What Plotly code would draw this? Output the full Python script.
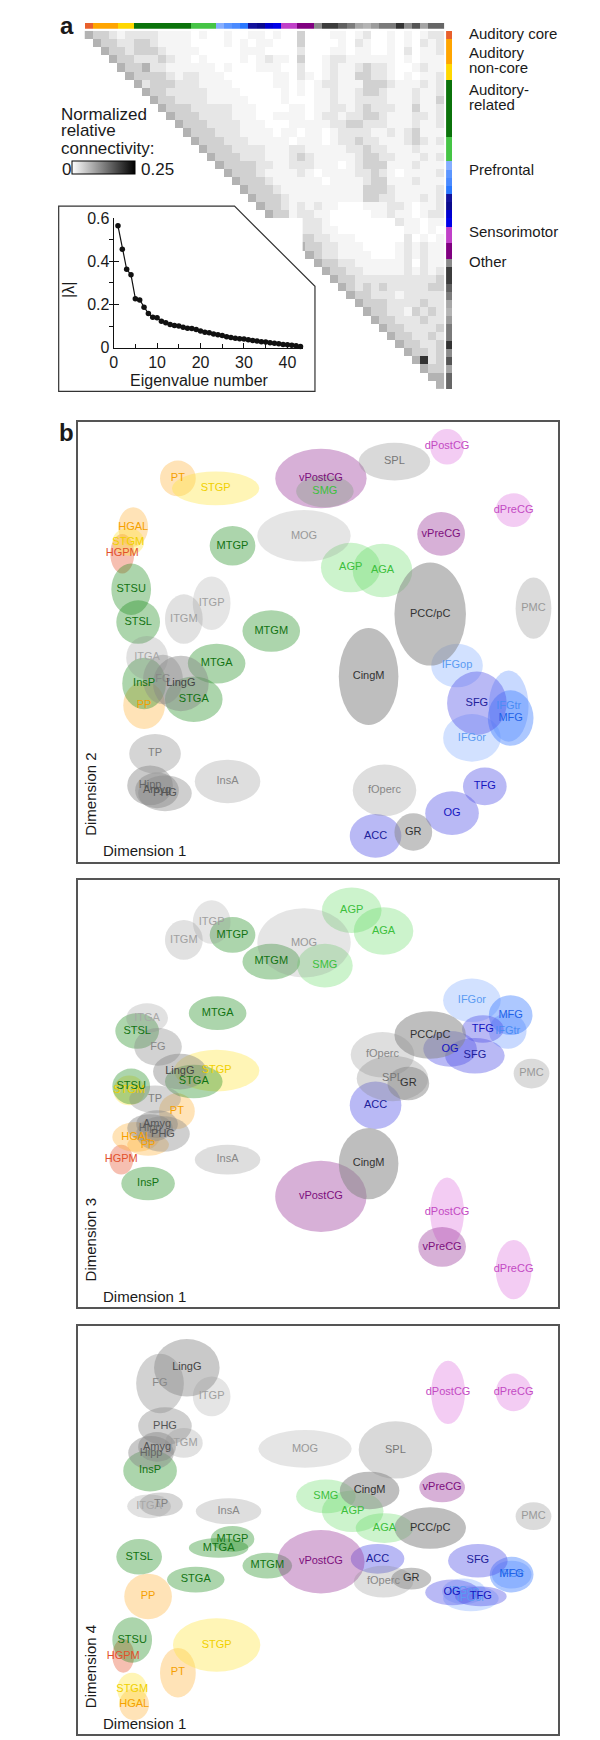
import plotly.graph_objects as go

# ---------------- panel a data ----------------
# normalized connectivity, one string per row, gray level 0 (white) .. 9 (black)
matrix_rows = [
    "4332 1222 2111 1010 0100 1101 0030 0011 0120 0101 0122",
    "0433 2233 2111 1000 0101 0110 0030 0001 0210 0101 0212",
    "0043 3233 3211 1100 0001 1100 0020 0011 0110 0102 0112",
    "0004 3322 2321 1010 0001 0121 1030 0122 1111 1101 0111",
    "0000 4334 2211 1111 0100 0111 0020 0121 1232 2100 1211",
    "0000 0433 3321 2211 1000 0001 1021 0121 1332 2101 0112",
    "0000 0042 3332 2211 1100 0001 1010 1221 1133 3211 1212",
    "0000 0004 3322 2221 1110 0000 1010 1121 1233 2111 2112",
    "0000 0000 4332 2221 1111 0000 1000 1121 1222 2111 2113",
    "0000 0000 0433 3222 2211 1000 0110 1122 1232 2211 3112",
    "0000 0000 0043 3322 2211 1001 1110 1221 2233 2111 2212",
    "0000 0000 0004 3332 2221 1100 0111 1122 3322 2111 2112",
    "0000 0000 0000 4333 2221 1110 1101 1012 2221 1212 3111",
    "0000 0000 0000 0433 3222 1111 1011 1012 2322 1112 3212",
    "0000 0000 0000 0043 3322 2211 1221 1111 2232 2111 2111",
    "0000 0000 0000 0004 3332 2211 1232 1111 1233 2211 1212",
    "0000 0000 0000 0000 4333 3221 1222 1110 1233 3111 2111",
    "0000 0000 0000 0000 0433 3211 1121 0111 1223 2101 1112",
    "0000 0000 0000 0000 0043 3321 1111 1011 1123 3111 2111",
    "0000 0000 0000 0000 0004 3332 1111 1111 1133 3211 1112",
    "0000 0000 0000 0000 0000 4333 2111 1111 1133 2211 1212",
    "0000 0000 0000 0000 0000 0433 2121 2110 0011 1221 0112",
    "0000 0000 0000 0000 0000 0043 3122 1100 0001 1211 0122",
    "0000 0000 0000 0000 0000 0009 3222 2100 0000 0021 1011",
    "0000 0000 0000 0000 0000 0000 9522 2110 0000 0001 1010",
    "0000 0000 0000 0000 0000 0000 0733 2211 1000 0002 0101",
    "0000 0000 0000 0000 0000 0000 0043 3221 1100 0012 1211",
    "0000 0000 0000 0000 0000 0000 0004 3221 1110 0012 1211",
    "0000 0000 0000 0000 0000 0000 0000 4332 2111 1112 0211",
    "0000 0000 0000 0000 0000 0000 0000 0433 2211 1112 1212",
    "0000 0000 0000 0000 0000 0000 0000 0043 3222 2222 2223",
    "0000 0000 0000 0000 0000 0000 0000 0004 3232 3222 2233",
    "0000 0000 0000 0000 0000 0000 0000 0000 4332 2212 2222",
    "0000 0000 0000 0000 0000 0000 0000 0000 0433 3222 2322",
    "0000 0000 0000 0000 0000 0000 0000 0000 0043 3221 3232",
    "0000 0000 0000 0000 0000 0000 0000 0000 0004 3322 2322",
    "0000 0000 0000 0000 0000 0000 0000 0000 0000 4332 2223",
    "0000 0000 0000 0000 0000 0000 0000 0000 0000 0433 2232",
    "0000 0000 0000 0000 0000 0000 0000 0000 0000 0043 3223",
    "0000 0000 0000 0000 0000 0000 0000 0000 0000 0004 3323",
    "0000 0000 0000 0000 0000 0000 0000 0000 0000 0000 4823",
    "0000 0000 0000 0000 0000 0000 0000 0000 0000 0000 0433",
    "0000 0000 0000 0000 0000 0000 0000 0000 0000 0000 0044",
    "0000 0000 0000 0000 0000 0000 0000 0000 0000 0000 0004",
]
# connectivity value of each gray level, read against the colour key
level_value = [0, 0.01, 0.025, 0.045, 0.075, 0.1, 0.13, 0.16, 0.2, 0.25]
conn_max = 0.25

group_bar_colors = (
    ['#E8602C'] + ['#FFA500'] * 3 + ['#FFD700'] * 2 + ['#0B730B'] * 7 + ['#45C445'] * 3
    + ['#86AEFF', '#5C96FF', '#4A8AFF', '#2A78FF']
    + ['#12129C', '#0A0A8E', '#0000D0', '#0000E8']
    + ['#C040C8'] * 2 + ['#800080'] * 2
    + ['#8A8A8A', '#3C3C3C', '#3C3C3C', '#606060', '#7C7C7C', '#A8A8A8', '#B4B4B4', '#9C9C9C',
       '#7A7A7A', '#7A7A7A', '#333333', '#8C8C8C', '#555555', '#A4A4A4', '#666666', '#666666']
)

group_labels = [('Auditory core', 18), ('Auditory', 37), ('non-core', 52), ('Auditory-', 74),
                ('related', 89), ('Prefrontal', 155), ('Sensorimotor', 218), ('Other', 248)]

eig_number = list(range(1, 44))
eig_value = [0.564, 0.456, 0.363, 0.337, 0.227, 0.221, 0.187, 0.158, 0.141, 0.139,
             0.123, 0.115, 0.107, 0.103, 0.100, 0.095, 0.090, 0.089, 0.084, 0.077,
             0.072, 0.069, 0.064, 0.060, 0.057, 0.051, 0.047, 0.044, 0.041, 0.040,
             0.037, 0.034, 0.031, 0.028, 0.026, 0.023, 0.021, 0.018, 0.015, 0.014,
             0.011, 0.009, 0.006]

# ---------------- panel b data ----------------
regions = ['HGPM', 'HGAL', 'PP', 'PT', 'STGM', 'STGP', 'STSU', 'STSL', 'STGA', 'MTGA',
           'MTGP', 'MTGM', 'InsP', 'SMG', 'AGP', 'AGA', 'IFGop', 'IFGtr', 'IFGor', 'MFG',
           'SFG', 'OG', 'TFG', 'ACC', 'dPostCG', 'dPreCG', 'vPostCG', 'vPreCG', 'ITGA', 'ITGM',
           'ITGP', 'TP', 'Hipp', 'Amyg', 'PHG', 'FG', 'LingG', 'MOG', 'SPL', 'InsA',
           'CingM', 'PCC/pC', 'fOperc', 'GR', 'PMC']

# dimension 1 vs dimension 2 (centre and spread)
d12_x = [45, 56, 67, 101, 51, 139, 54, 61, 117, 140, 156, 195, 67, 249, 275, 307, 382, 434, 397, 436,
         402, 377, 410, 300, 372, 439, 245, 366, 70, 107, 135, 78, 73, 80, 88, 86, 104, 228, 319, 151,
         293, 355, 309, 338, 459]
d12_y = [311, 338, 158, 387, 323, 377, 275, 242, 164, 200, 319, 233, 180, 374, 297, 294, 198, 157, 125, 145,
         160, 49, 76, 26, 419, 355, 387, 331, 206, 245, 261, 109, 77, 72, 69, 184, 180, 329, 404, 81,
         187, 250, 72, 30, 256]
d12_sx = [12, 15, 21, 18, 16, 44, 20, 22, 29, 29, 23, 29, 22, 29, 30, 30, 26, 20, 29, 23,
          30, 27, 22, 26, 17, 18, 46, 24, 21, 19, 19, 26, 23, 22, 27, 20, 28, 47, 36, 33,
          30, 36, 32, 19, 18]
d12_sy = [20, 20, 24, 18, 14, 17, 26, 22, 23, 20, 20, 21, 26, 16, 25, 27, 22, 36, 24, 28,
          32, 22, 19, 22, 18, 17, 30, 22, 22, 25, 27, 20, 20, 18, 18, 25, 28, 26, 19, 22,
          49, 52, 26, 19, 31]

# dimension 1 vs dimension 3
d13_x = [44, 59, 71, 100, 52, 140, 54, 60, 117, 141, 156, 195, 71, 249, 276, 308, None, 433, 397, 436,
         400, 375, 408, 300, 372, 439, 245, 367, 70, 107, 135, 78, 73, 80, 86, 81, 103, 228, 317, 151,
         293, 355, 307, 333, 457]
d13_y = [149, 172, 164, 198, 219, 239, 223, 279, 228, 297, 376, 349, 125, 345, 401, 380, None, 279, 310, 295,
         254, 261, 281, 204, 96, 38, 112, 61, 292, 371, 389, 210, 181, 185, 175, 263, 238, 368, 231, 149,
         145, 275, 255, 226, 236]
d13_sx = [12, 24, 21, 18, 16, 43, 19, 22, 29, 29, 23, 29, 27, 28, 30, 30, None, 19, 29, 22,
          30, 27, 21, 26, 17, 18, 46, 24, 21, 19, 19, 26, 23, 21, 27, 24, 27, 47, 36, 33,
          30, 36, 32, 21, 18]
d13_sy = [15, 15, 11, 18, 15, 21, 18, 18, 17, 17, 18, 18, 17, 22, 23, 24, None, 18, 22, 20,
          18, 18, 14, 24, 35, 30, 36, 20, 15, 20, 22, 14, 14, 14, 18, 19, 18, 35, 23, 15,
          36, 24, 23, 17, 15]

# dimension 1 vs dimension 4
d14_x = [46, 57, 71, 101, 55, 140, 55, 62, 119, 142, 156, 191, 73, 250, 277, 309, 389, 437, 396, 437,
         403, 377, 406, 302, 373, 439, 245, 367, 72, 107, 135, 84, 74, 80, 88, 83, 110, 229, 320, 152,
         294, 355, 308, 336, 459]
d14_y = [79, 30, 139, 62, 45, 90, 95, 179, 156, 188, 197, 170, 266, 240, 225, 208, 144, 161, 137, 161,
         175, 143, 139, 177, 345, 345, 174, 249, 230, 294, 341, 232, 284, 290, 311, 354, 370, 288, 287, 225,
         246, 208, 154, 157, 220]
d14_sx = [11, 15, 24, 18, 15, 44, 20, 23, 29, 30, 22, 25, 27, 30, 31, 29, 22, 20, 28, 22,
          30, 27, 26, 27, 17, 18, 44, 23, 22, 19, 19, 22, 23, 19, 27, 24, 33, 47, 37, 33,
          30, 36, 30, 20, 18]
d14_sy = [17, 16, 23, 25, 17, 27, 23, 18, 13, 10, 13, 13, 21, 17, 21, 15, 13, 14, 13, 18,
          17, 13, 10, 15, 32, 19, 32, 15, 12, 15, 20, 12, 17, 15, 19, 30, 29, 19, 29, 13,
          19, 21, 16, 11, 14]

for arr in (d12_x, d12_y, d12_sx, d12_sy, d13_x, d13_y, d13_sx, d13_sy, d14_x, d14_y, d14_sx, d14_sy):
    assert len(arr) == len(regions)

# ---------------- styles ----------------
FONT = 'Liberation Sans, Arial, sans-serif'
W, H = 600, 1740


def px(x):
    return x / W


def py(y):
    return 1 - y / H


fill = {}
label = {}
for r in ['HGPM']:
    fill[r], label[r] = 'rgba(232,96,60,0.4)', '#E2502C'
for r in ['HGAL', 'PP', 'PT']:
    fill[r], label[r] = 'rgba(255,176,48,0.35)', '#F5A000'
for r in ['STGM', 'STGP']:
    fill[r], label[r] = 'rgba(255,230,64,0.38)', '#F0D000'
for r in ['STSU', 'STSL', 'STGA', 'MTGA', 'MTGP', 'MTGM', 'InsP']:
    fill[r], label[r] = 'rgba(26,138,26,0.36)', '#127312'
for r in ['SMG', 'AGP', 'AGA']:
    fill[r], label[r] = 'rgba(85,214,85,0.3)', '#3CC03C'
for r in ['IFGop', 'IFGor']:
    fill[r], label[r] = 'rgba(127,170,255,0.35)', '#5B9BF2'
fill['IFGtr'], label['IFGtr'] = 'rgba(110,155,255,0.38)', '#4A8CF5'
fill['MFG'], label['MFG'] = 'rgba(60,124,255,0.42)', '#1F62E8'
for r, c in [('SFG', '#20209A'), ('OG', '#1515C0'), ('TFG', '#1515C0'), ('ACC', '#20209A')]:
    fill[r], label[r] = 'rgba(80,80,230,0.4)', c
for r in ['dPostCG', 'dPreCG']:
    fill[r], label[r] = 'rgba(224,128,224,0.4)', '#C34AC3'
for r in ['vPostCG', 'vPreCG']:
    fill[r], label[r] = 'rgba(154,58,154,0.4)', '#7D0F7D'
gray_style = {
    'ITGA': (0.25, '#A8A8A8'), 'ITGM': (0.25, '#A0A0A0'), 'ITGP': (0.22, '#A0A0A0'),
    'TP': (0.35, '#808080'), 'Hipp': (0.45, '#666666'), 'Amyg': (0.45, '#555555'),
    'PHG': (0.4, '#555555'), 'FG': (0.38, '#888888'), 'LingG': (0.45, '#444444'),
    'MOG': (0.22, '#999999'), 'SPL': (0.32, '#777777'), 'InsA': (0.28, '#888888'),
    'CingM': (0.55, '#333333'), 'PCC/pC': (0.55, '#333333'), 'fOperc': (0.28, '#888888'),
    'GR': (0.5, '#333333'), 'PMC': (0.3, '#999999'),
}
for r, (a, c) in gray_style.items():
    fill[r], label[r] = f'rgba(136,136,136,{a})', c

# ---------------- figure ----------------
fig = go.Figure()

n = len(matrix_rows)
z = []
for i, row in enumerate(matrix_rows):
    levels = row.replace(' ', '')
    assert len(levels) == n
    z.append([level_value[int(c)] if j >= i else None for j, c in enumerate(levels)])

fig.add_trace(
    go.Heatmap(
        z=z,
        x=list(range(n)),
        y=list(range(n)),
        zmin=0,
        zmax=conn_max,
        colorscale=[[0, '#FFFFFF'], [1, '#000000']],
        hoverongaps=False,
        colorbar=dict(
            orientation='h',
            x=px(60), xanchor='left',
            y=py(161), yanchor='bottom',
            len=63, lenmode='pixels',
            thickness=13, thicknessmode='pixels',
            outlinewidth=1, outlinecolor='#000000',
            showticklabels=False, ticks='',
            xpad=0, ypad=0,
        ),
        xaxis='x', yaxis='y',
    )
)

fig.add_trace(
    go.Bar(
        x=list(range(n)), y=[1] * n, width=1,
        marker=dict(color=group_bar_colors, line_width=0),
        xaxis='x2', yaxis='y2',
    )
)
fig.add_trace(
    go.Bar(
        y=list(range(n)), x=[1] * n, width=1, orientation='h',
        marker=dict(color=group_bar_colors, line_width=0),
        xaxis='x3', yaxis='y3',
    )
)

fig.add_trace(
    go.Scatter(
        x=eig_number, y=eig_value,
        mode='lines+markers',
        line=dict(color='#111111', width=1.2),
        marker=dict(color='#111111', size=5.5),
        cliponaxis=False,
        xaxis='x4', yaxis='y4',
    )
)

shapes = []
panels = [
    (d12_x, d12_y, d12_sx, d12_sy, '5', 444, 854, 'Dimension 2'),
    (d13_x, d13_y, d13_sx, d13_sy, '6', 431, 1304, 'Dimension 3'),
    (d14_x, d14_y, d14_sx, d14_sy, '7', 412, 1735, 'Dimension 4'),
]
for xs, ys, sxs, sys_, ax, height, bottom, ytitle in panels:
    tx, ty, tt, tc = [], [], [], []
    for name, cx, cy, sx, sy in zip(regions, xs, ys, sxs, sys_):
        if cx is None:
            continue
        shapes.append(dict(
            type='circle', xref='x' + ax, yref='y' + ax,
            x0=cx - sx, x1=cx + sx, y0=cy - sy, y1=cy + sy,
            fillcolor=fill[name], line=dict(width=0), layer='below',
        ))
        tx.append(cx)
        ty.append(cy)
        tt.append(name)
        tc.append(label[name])
    fig.add_trace(
        go.Scatter(
            x=tx, y=ty, text=tt, mode='text',
            textfont=dict(color=tc, size=11, family=FONT),
            cliponaxis=False,
            xaxis='x' + ax, yaxis='y' + ax,
        )
    )

# inset frame with the cut corner
shapes.append(dict(
    type='path', xref='paper', yref='paper',
    path=(f'M {px(47)},{py(192)} L {px(224)},{py(192)} L {px(305)},{py(273)} '
          f'L {px(305)},{py(379)} L {px(47)},{py(379)} Z'),
    line=dict(color='#333333', width=1.2),
))

annotations = [
    dict(x=px(55), y=py(10), text='<b>a</b>', font=dict(size=24)),
    dict(x=px(55), y=py(421), text='<b>b</b>', font=dict(size=24)),
    dict(x=px(57), y=py(277), text='|λ|', textangle=-90, font=dict(size=16)),
    dict(x=px(189), y=py(368), text='Eigenvalue number', font=dict(size=16)),
    dict(x=px(48), y=py(155), text='0', xanchor='left', font=dict(size=17)),
    dict(x=px(128), y=py(155), text='0.25', xanchor='left', font=dict(size=17)),
]
for text, yy in [('Normalized', 99), ('relative', 116), ('connectivity:', 134)]:
    annotations.append(dict(x=px(47), y=py(yy), text=text, xanchor='left', font=dict(size=17)))
for text, yy in group_labels:
    annotations.append(dict(x=px(458), y=py(yy), text=text, xanchor='left', font=dict(size=15)))
for _, _, _, _, ax, height, bottom, ytitle in panels:
    annotations.append(dict(x=px(90), y=py(bottom - 11), text='Dimension 1', xanchor='left',
                            font=dict(size=15)))
    annotations.append(dict(x=px(79), y=py(bottom - 68), text=ytitle, textangle=-90,
                            font=dict(size=15)))
for a in annotations:
    a.update(xref='paper', yref='paper', showarrow=False)
    a.setdefault('xanchor', 'center')
    a.setdefault('yanchor', 'middle')
    a['font'].update(color='#1A1A1A', family=FONT)

hidden = dict(visible=False, fixedrange=True)
layout_axes = dict(
    xaxis=dict(domain=[px(73), px(435)], range=[-0.5, n - 0.5], anchor='y', **hidden),
    yaxis=dict(domain=[py(377), py(15)], range=[n - 0.5, -0.5], anchor='x', **hidden),
    xaxis2=dict(domain=[px(73), px(435)], range=[-0.5, n - 0.5], anchor='y2', **hidden),
    yaxis2=dict(domain=[py(13), py(7)], range=[0, 1], anchor='x2', **hidden),
    xaxis3=dict(domain=[px(437), px(443)], range=[0, 1], anchor='y3', **hidden),
    yaxis3=dict(domain=[py(377), py(15)], range=[n - 0.5, -0.5], anchor='x3', **hidden),
    xaxis4=dict(
        domain=[px(102.3), px(292.6)], range=[0, 43.5], anchor='y4',
        showline=True, linecolor='#111111', linewidth=1, showgrid=False, zeroline=False,
        ticks='inside', ticklen=5, tickcolor='#111111', tickvals=[0, 10, 20, 30, 40],
        minor=dict(ticks='inside', ticklen=4, dtick=5, tick0=0, tickcolor='#111111'),
        tickfont=dict(size=16, color='#1A1A1A', family=FONT),
    ),
    yaxis4=dict(
        domain=[py(335), py(204)], range=[0, 0.6], anchor='x4',
        showline=True, linecolor='#111111', linewidth=1, showgrid=False, zeroline=False,
        ticks='inside', ticklen=5, tickcolor='#111111', tickvals=[0, 0.2, 0.4, 0.6],
        ticktext=['0', '0.2', '0.4', '0.6'],
        minor=dict(ticks='outside', ticklen=4, dtick=0.1, tick0=0, tickcolor='#111111'),
        tickfont=dict(size=16, color='#1A1A1A', family=FONT),
    ),
)
for _, _, _, _, ax, height, bottom, _ in panels:
    frame = dict(showline=True, mirror=True, linecolor='#555555', linewidth=1.5,
                 showgrid=False, zeroline=False, showticklabels=False, ticks='', fixedrange=True)
    layout_axes['xaxis' + ax] = dict(domain=[px(66), px(550)], range=[0, 484], anchor='y' + ax, **frame)
    layout_axes['yaxis' + ax] = dict(domain=[py(bottom), py(bottom - height)], range=[0, height],
                                     anchor='x' + ax, **frame)

fig.update_layout(
    width=W,
    height=H,
    margin=dict(l=0, r=0, t=0, b=0),
    paper_bgcolor='white',
    plot_bgcolor='white',
    showlegend=False,
    bargap=0,
    font=dict(family=FONT, color='#1A1A1A'),
    shapes=shapes,
    annotations=annotations,
    **layout_axes,
)

fig.write_html('out.html')
